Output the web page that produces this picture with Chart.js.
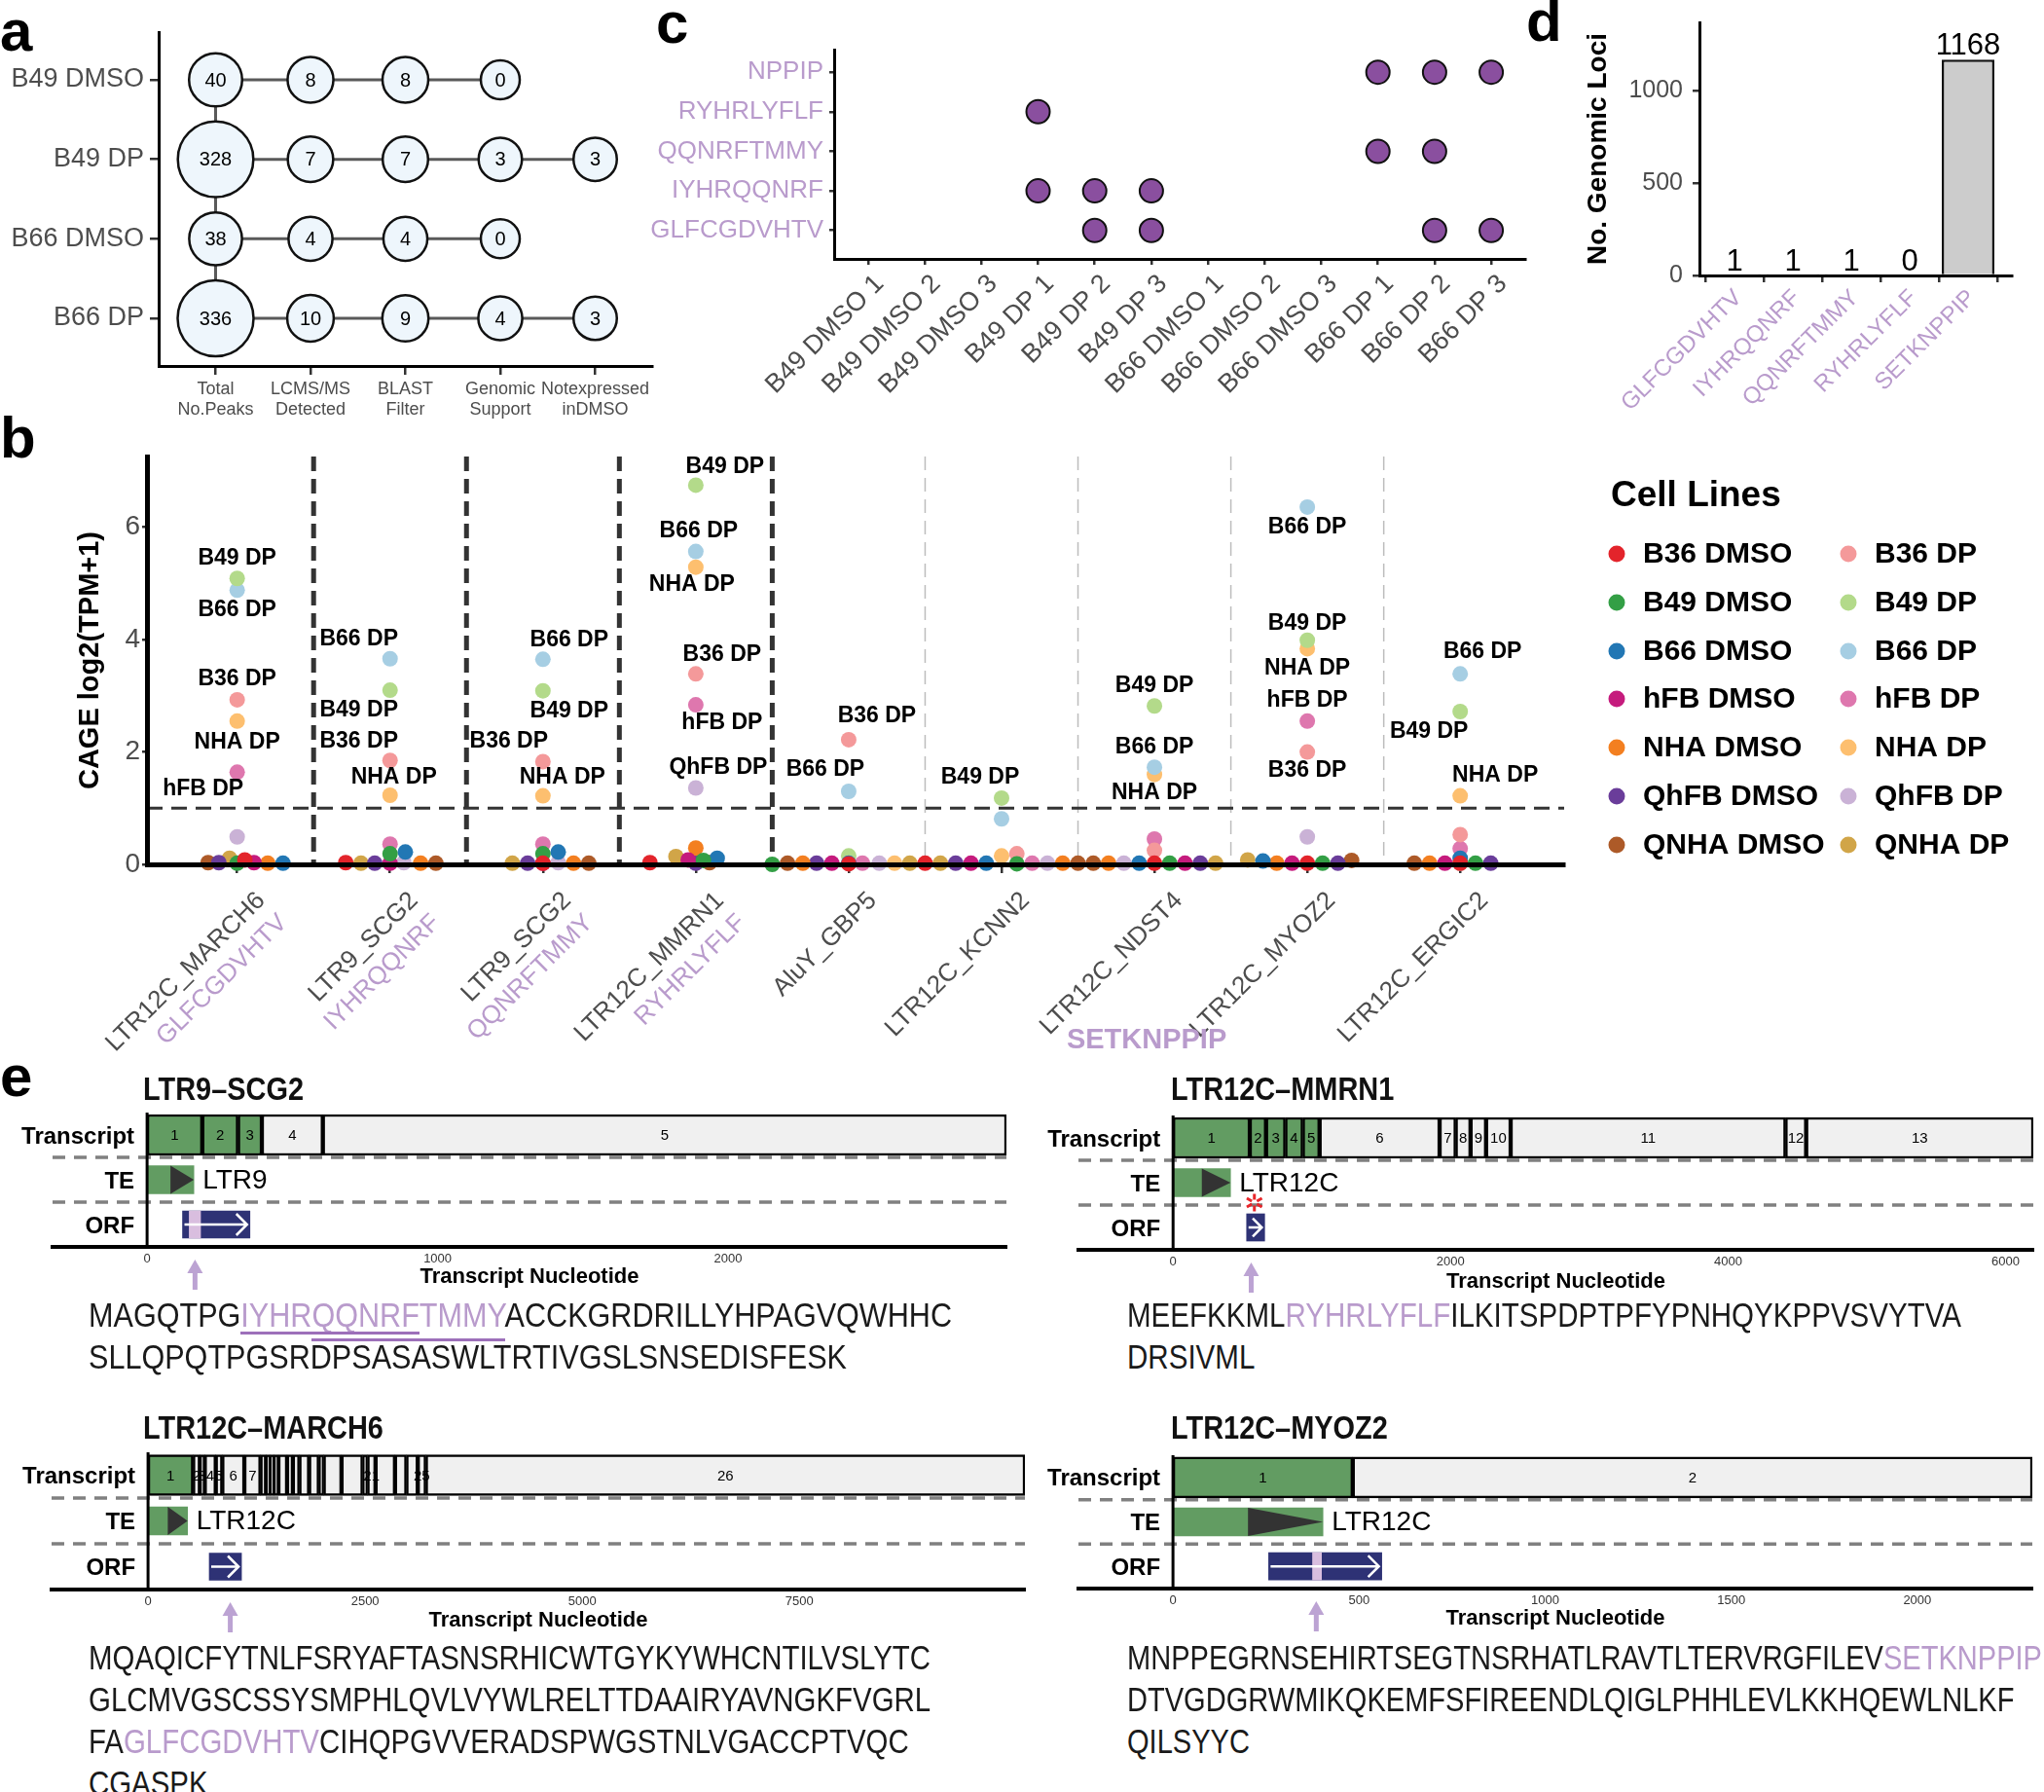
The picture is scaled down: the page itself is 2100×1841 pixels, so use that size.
<!DOCTYPE html>
<html><head><meta charset="utf-8"><title>Figure</title>
<script src="https://cdn.jsdelivr.net/npm/chart.js@4.4.1/dist/chart.umd.min.js"></script>
<style>
html,body{margin:0;padding:0;background:#fff}
#root{position:relative;width:2100px;height:1841px;overflow:hidden;background:#fff;font-family:'Liberation Sans',Arial,sans-serif}
#root canvas{position:absolute}
.lt{position:absolute;font-weight:bold;font-size:60px;line-height:60px;color:#000}
.tx{position:absolute;white-space:nowrap;transform-origin:0 50%;color:#1a1a1a;line-height:1}
</style></head>
<body><div id="root"></div>
<script>
// ================= DATA =================
// ---- panel a ----
const aRows = ['B49 DMSO', 'B49 DP', 'B66 DMSO', 'B66 DP'];
const aSteps = [['Total', 'No.Peaks'], ['LCMS/MS', 'Detected'], ['BLAST', 'Filter'], ['Genomic', 'Support'], ['Notexpressed', 'inDMSO']];
const aB49DMSO = [40, 8, 8, 0];
const aB49DP = [328, 7, 7, 3, 3];
const aB66DMSO = [38, 4, 4, 0];
const aB66DP = [336, 10, 9, 4, 3];

// ---- panel c ----
const cPeptides = ['NPPIP', 'RYHRLYFLF', 'QQNRFTMMY', 'IYHRQQNRF', 'GLFCGDVHTV'];
const cSamples = ['B49 DMSO 1', 'B49 DMSO 2', 'B49 DMSO 3', 'B49 DP 1', 'B49 DP 2', 'B49 DP 3',
  'B66 DMSO 1', 'B66 DMSO 2', 'B66 DMSO 3', 'B66 DP 1', 'B66 DP 2', 'B66 DP 3'];
const cNPPIP      = [0, 0, 0, 0, 0, 0, 0, 0, 0, 1, 1, 1];
const cRYHRLYFLF  = [0, 0, 0, 1, 0, 0, 0, 0, 0, 0, 0, 0];
const cQQNRFTMMY  = [0, 0, 0, 0, 0, 0, 0, 0, 0, 1, 1, 0];
const cIYHRQQNRF  = [0, 0, 0, 1, 1, 1, 0, 0, 0, 0, 0, 0];
const cGLFCGDVHTV = [0, 0, 0, 0, 1, 1, 0, 0, 0, 0, 1, 1];

// ---- panel d ----
const dPeptides = ['GLFCGDVHTV', 'IYHRQQNRF', 'QQNRFTMMY', 'RYHRLYFLF', 'SETKNPPIP'];
const dLoci = [1, 1, 1, 0, 1168];
const dTicks = [0, 500, 1000];

// ---- panel b ----
const bLoci = ['LTR12C_MARCH6', 'LTR9_SCG2', 'LTR9_SCG2', 'LTR12C_MMRN1', 'AluY_GBP5', 'LTR12C_KCNN2', 'LTR12C_NDST4', 'LTR12C_MYOZ2', 'LTR12C_ERGIC2'];
const bPeptides = ['GLFCGDVHTV', 'IYHRQQNRF', 'QQNRFTMMY', 'RYHRLYFLF', '', '', '', '', ''];
const bSharedPeptide = 'SETKNPPIP';
const bTicks = [0, 2, 4, 6];
const bThreshold = 1;
const cellLines = ['B36 DMSO', 'B49 DMSO', 'B66 DMSO', 'hFB DMSO', 'NHA DMSO', 'QhFB DMSO', 'QNHA DMSO',
  'B36 DP', 'B49 DP', 'B66 DP', 'hFB DP', 'NHA DP', 'QhFB DP', 'QNHA DP'];
// CAGE log2(TPM+1), one value per cell line (order as cellLines)
const cage_LTR12C_MARCH6 = [0.08, 0.02, 0.02, 0.03, 0.02, 0.03, 0.03, 2.93, 5.09, 4.88, 1.64, 2.55, 0.49, 0.11];
const cage_LTR9_SCG2_a   = [0.03, 0.19, 0.22, 0.02, 0.02, 0.02, 0.02, 1.85, 3.10, 3.66, 0.36, 1.23, 0.03, 0.02];
const cage_LTR9_SCG2_b   = [0.02, 0.19, 0.22, 0.02, 0.02, 0.02, 0.02, 1.83, 3.09, 3.65, 0.36, 1.22, 0.03, 0.02];
const cage_LTR12C_MMRN1  = [0.03, 0.07, 0.11, 0.08, 0.29, 0.02, 0.03, 3.39, 6.75, 5.57, 2.84, 5.29, 1.36, 0.14];
const cage_AluY_GBP5     = [0.01, 0.00, 0.02, 0.02, 0.02, 0.02, 0.02, 2.22, 0.15, 1.30, 0.02, 0.02, 0.02, 0.02];
const cage_LTR12C_KCNN2  = [0.02, 0.01, 0.02, 0.02, 0.02, 0.02, 0.02, 0.19, 1.18, 0.81, 0.02, 0.15, 0.02, 0.02];
const cage_LTR12C_NDST4  = [0.02, 0.02, 0.02, 0.02, 0.02, 0.02, 0.02, 0.25, 2.82, 1.73, 0.45, 1.60, 0.02, 0.02];
const cage_LTR12C_MYOZ2  = [0.02, 0.02, 0.06, 0.02, 0.02, 0.02, 0.07, 2.00, 3.99, 6.36, 2.55, 3.84, 0.49, 0.08];
const cage_LTR12C_ERGIC2 = [0.02, 0.02, 0.11, 0.02, 0.02, 0.02, 0.02, 0.53, 2.72, 3.39, 0.28, 1.22, 0.02, 0.02];
// horizontal jitter (category units)
const jit_LTR12C_MARCH6 = [0.05, 0, 0.3, 0.11, 0.2, -0.12, -0.19, 0, 0, 0, 0, 0, 0, -0.05];
const jit_LTR9_SCG2_a   = [-0.29, 0, 0.1, 0, 0.2, -0.1, 0.3, 0, 0, 0, 0, 0, 0.09, -0.19];
const jit_LTR9_SCG2_b   = [0, 0, 0.1, 0, 0.2, -0.1, 0.3, 0, 0, 0, 0, 0, 0.1, -0.2];
const jit_LTR12C_MMRN1  = [-0.3, 0.05, 0.14, -0.05, 0, 0, 0.09, 0, 0, 0, 0, 0, 0, -0.13];
const jit_AluY_GBP5     = [0, -0.5, 0, -0.11, -0.3, -0.21, -0.4, 0, 0, 0, 0.09, 0.3, 0.2, 0.4];
const jit_LTR12C_KCNN2  = [-0.5, 0.1, -0.1, -0.2, 0.4, -0.3, 0.5, 0.1, 0, 0, 0.2, 0, 0.3, -0.4];
const jit_LTR12C_NDST4  = [0, 0.1, -0.1, 0.2, -0.3, 0.3, -0.4, 0, 0, 0, 0, 0, -0.2, 0.4];
const jit_LTR12C_MYOZ2  = [0, 0.1, -0.29, -0.1, -0.2, 0.2, 0.29, 0, 0, 0, 0, 0, 0, -0.39];
const jit_LTR12C_ERGIC2 = [0, 0.1, 0, -0.1, -0.2, 0.2, -0.3, 0, 0, 0, 0, 0, 0, 0];

// ---- panel e ----
const eRows = ['Transcript', 'TE', 'ORF'];
const e1Name = 'LTR9–SCG2', e1Len = 2958, e1ExonBounds = [0, 190, 313, 395, 605, 2958], e1TEExons = 3;
const e1TE = [0, 161], e1TEName = 'LTR9', e1ORF = [122, 354], e1Pep = [145, 184], e1PepPos = 165, e1Ticks = [0, 1000, 2000];
const e1Seq = ['MAGQTPGIYHRQQNRFTMMYACCKGRDRILLYHPAGVQWHHC', 'SLLQPQTPGSRDPSASASWLTRTIVGSLSNSEDISFESK'];
const e1Highlight = 'IYHRQQNRFTMMY', e1Underline = ['IYHRQQNRF', 'QQNRFTMMY'];

const e2Name = 'LTR12C–MMRN1', e2Len = 6200, e2ExonBounds = [0, 553, 670, 809, 935, 1056, 1921, 2037, 2144, 2256, 2433, 4414, 4563, 6200], e2TEExons = 5;
const e2TE = [0, 414], e2TEName = 'LTR12C', e2ORF = [530, 660], e2PepPos = 563, e2Mark = 586, e2Ticks = [0, 2000, 4000, 6000];
const e2Seq = ['MEEFKKMLRYHRLYFLFILKITSPDPTPFYPNHQYKPPVSVYTVA', 'DRSIVML'];
const e2Highlight = 'RYHRLYFLF';

const e3Name = 'LTR12C–MARCH6', e3Len = 10098;
const e3ExonBounds = [0, 519, 597, 653, 780, 855, 1109, 1295, 1359, 1407, 1452, 1501, 1601, 1668, 1743, 1855, 1967, 2023, 2228, 2471, 2527, 2620, 2844, 2975, 3106, 3199, 10098];
const e3TEExons = 1, e3ExonLabels = [1, 2, 3, 4, 5, 6, 7, 21, 25, 26];
const e3TE = [0, 455], e3TEName = 'LTR12C', e3ORF = [705, 1076], e3PepPos = 947, e3Ticks = [0, 2500, 5000, 7500];
const e3Seq = ['MQAQICFYTNLFSRYAFTASNSRHICWTGYKYWHCNTILVSLYTC', 'GLCMVGSCSSYSMPHLQVLVYWLRELTTDAAIRYAVNGKFVGRL', 'FAGLFCGDVHTVCIHQPGVVERADSPWGSTNLVGACCPTVQC', 'CGASPK'];
const e3Highlight = 'GLFCGDVHTV';

const e4Name = 'LTR12C–MYOZ2', e4Len = 2309, e4ExonBounds = [0, 483, 2309], e4TEExons = 1;
const e4TE = [0, 403], e4TEName = 'LTR12C', e4ORF = [257, 561], e4Pep = [375, 399], e4PepPos = 385, e4Ticks = [0, 500, 1000, 1500, 2000];
const e4Seq = ['MNPPEGRNSEHIRTSEGTNSRHATLRAVTLTERVRGFILEVSETKNPPIP', 'DTVGDGRWMIKQKEMFSFIREENDLQIGLPHHLEVLKKHQEWLNLKF', 'QILSYYC'];
const e4Highlight = 'SETKNPPIP';

// ================= STYLE =================
const FONT = "'Liberation Sans', Arial, sans-serif";
const PURPLE = '#B99BCC', DOT = '#8A4F9F', GREEN = '#629C62', EXGRAY = '#F0F0F0', NAVY = '#2E3275', PEPBAND = '#D9BEDF';
const cellColors = ['#E3242B', '#339F45', '#2277B4', '#C51B7D', '#F37F20', '#6A3D9A', '#AD5A28',
  '#F4999A', '#B3DA8A', '#A6CEE3', '#DE77AE', '#FDBF6F', '#CAB2D6', '#D1A548'];

Chart.defaults.font.family = FONT;
Chart.defaults.color = '#4D4D4D';

const root = document.getElementById('root');
function canvasAt(b) {
  const c = document.createElement('canvas');
  c.width = b.w; c.height = b.h;
  c.style.left = b.x + 'px'; c.style.top = b.y + 'px';
  c.style.width = b.w + 'px'; c.style.height = b.h + 'px';
  root.appendChild(c);
  return c;
}
function padFor(b, a, yW, xH) {
  return {left: a.l - b.x - yW, top: a.t - b.y, right: b.x + b.w - a.r, bottom: b.y + b.h - a.b - xH};
}
const fixW = w => s => { s.width = w; s.paddingTop = 0; s.paddingBottom = 0; s.paddingLeft = 0; s.paddingRight = 0; };
const fixH = h => s => { s.height = h; s.paddingTop = 0; s.paddingBottom = 0; s.paddingLeft = 0; s.paddingRight = 0; };
const setTicks = vals => s => { s.ticks = vals.map(v => ({value: v})); };
const baseOpts = () => ({
  responsive: false, animation: false, devicePixelRatio: 1, events: [],
  plugins: {legend: {display: false}, tooltip: {enabled: false}}
});

// ================= PANEL LETTERS =================
[['a', 0, 2], ['b', 0, 420], ['c', 674, -6], ['d', 1568, -8], ['e', 0, 1076]].forEach(([t, x, y]) => {
  const d = document.createElement('div'); d.className = 'lt'; d.textContent = t;
  d.style.left = x + 'px'; d.style.top = y + 'px'; root.appendChild(d);
});

// ================= PANEL A =================
(function () {
  const box = {x: 0, y: 20, w: 690, h: 420};
  const area = {l: 163, t: 33, r: 670, b: 376};
  const rows = [aB49DMSO, aB49DP, aB66DMSO, aB66DP];
  const rad = v => 20 + 19 * Math.pow(v / 336, 0.45);
  const bubbles = [];
  rows.forEach((r, i) => r.forEach((v, j) => bubbles.push({x: j, y: i, v})));
  const datasets = [{data: bubbles, order: 0, pointRadius: c => rad(c.raw.v), backgroundColor: '#EEF6FC',
    borderColor: '#111', borderWidth: 2.5, clip: false}];
  datasets.push({data: rows.map((r, i) => ({x: 0, y: i})), order: 1, showLine: true, borderColor: '#5a5a5a', borderWidth: 3, pointRadius: 0});
  rows.forEach((r, i) => datasets.push({data: r.map((v, j) => ({x: j, y: i})), order: 1, showLine: true,
    borderColor: '#5a5a5a', borderWidth: 3, pointRadius: 0}));
  const xH = box.y + box.h - area.b, yW = area.l - box.x;
  new Chart(canvasAt(box), {
    type: 'scatter',
    data: {datasets},
    options: Object.assign(baseOpts(), {
      layout: {padding: padFor(box, area, yW, xH), autoPadding: false},
      scales: {
        x: {type: 'linear', min: -0.6, max: 4.6, afterBuildTicks: setTicks([0, 1, 2, 3, 4]), afterFit: fixH(xH),
          grid: {display: true, drawOnChartArea: false, tickLength: 9, lineWidth: 2.5, color: '#333'},
          border: {display: true, color: '#000', width: 3},
          ticks: {callback: v => aSteps[v], font: {size: 18, lineHeight: 1.2}, color: '#4D4D4D', padding: 4, maxRotation: 0, minRotation: 0, autoSkip: false}},
        y: {type: 'linear', reverse: true, min: -0.6, max: 3.6, afterBuildTicks: setTicks([0, 1, 2, 3]), afterFit: fixW(yW),
          grid: {display: true, drawOnChartArea: false, tickLength: 9, lineWidth: 2.5, color: '#333'},
          border: {display: true, color: '#000', width: 3},
          ticks: {callback: v => aRows[v], font: {size: 27}, color: '#4D4D4D', padding: 6, autoSkip: false}}
      }
    }),
    plugins: [{id: 'aNums', afterDatasetsDraw(chart) {
      const ctx = chart.ctx, meta = chart.getDatasetMeta(0);
      ctx.save(); ctx.font = `20px ${FONT}`; ctx.fillStyle = '#000'; ctx.textAlign = 'center'; ctx.textBaseline = 'middle';
      meta.data.forEach((el, k) => ctx.fillText(String(bubbles[k].v), el.x, el.y + 1));
      ctx.restore();
    }}]
  });
})();

// ================= PANEL C =================
(function () {
  const box = {x: 640, y: 30, w: 940, h: 400};
  const area = {l: 857, t: 51, r: 1567, b: 266};
  const rows = [cNPPIP, cRYHRLYFLF, cQQNRFTMMY, cIYHRQQNRF, cGLFCGDVHTV];
  const pts = [];
  rows.forEach((r, i) => r.forEach((f, j) => { if (f) pts.push({x: j, y: i}); }));
  const xH = box.y + box.h - area.b, yW = area.l - box.x;
  new Chart(canvasAt(box), {
    type: 'scatter',
    data: {datasets: [{data: pts, pointRadius: 12, backgroundColor: DOT, borderColor: '#111', borderWidth: 2, clip: false}]},
    options: Object.assign(baseOpts(), {
      layout: {padding: padFor(box, area, yW, xH), autoPadding: false},
      scales: {
        x: {type: 'linear', min: -0.6, max: 11.6, afterBuildTicks: setTicks(cSamples.map((s, i) => i)), afterFit: fixH(xH),
          grid: {display: true, drawOnChartArea: false, tickLength: 6, lineWidth: 2.5, color: '#333'},
          border: {display: true, color: '#000', width: 3},
          ticks: {callback: v => cSamples[v], font: {size: 27}, color: '#4D4D4D', padding: 4, labelOffset: 12, maxRotation: 45, minRotation: 45, autoSkip: false}},
        y: {type: 'linear', reverse: true, min: -0.57, max: 4.72, afterBuildTicks: setTicks([0, 1, 2, 3, 4]), afterFit: fixW(yW),
          grid: {display: true, drawOnChartArea: false, tickLength: 5, lineWidth: 2.5, color: '#333'},
          border: {display: true, color: '#000', width: 3},
          ticks: {callback: v => cPeptides[v], font: {size: 26}, color: PURPLE, padding: 6, autoSkip: false}}
      }
    })
  });
})();

// ================= PANEL D =================
(function () {
  const box = {x: 1600, y: 0, w: 500, h: 440};
  const area = {l: 1746, t: 23, r: 2067, b: 283};
  const xH = box.y + box.h - area.b, yW = area.l - box.x;
  new Chart(canvasAt(box), {
    type: 'bar',
    data: {datasets: [{data: dLoci.map((v, i) => ({x: i, y: v})), backgroundColor: '#CCCCCC', borderColor: '#111',
      borderWidth: 2.5, barPercentage: 0.9, categoryPercentage: 1}]},
    options: Object.assign(baseOpts(), {
      layout: {padding: padFor(box, area, yW, xH), autoPadding: false},
      scales: {
        x: {type: 'linear', offset: false, min: -0.6, max: 4.75, afterBuildTicks: setTicks(dPeptides.map((p, i) => i)), afterFit: fixH(xH),
          grid: {display: true, drawOnChartArea: false, tickLength: 7, lineWidth: 2.5, color: '#333'},
          border: {display: true, color: '#000', width: 3, z: 1},
          ticks: {callback: v => dPeptides[v], font: {size: 24}, color: PURPLE, padding: 2, labelOffset: 4, maxRotation: 45, minRotation: 45, autoSkip: false}},
        y: {type: 'linear', min: 0, max: 1370, afterBuildTicks: setTicks(dTicks), afterFit: fixW(yW),
          grid: {display: true, drawOnChartArea: false, tickLength: 7, lineWidth: 2.5, color: '#333'},
          border: {display: true, color: '#000', width: 3},
          ticks: {callback: v => String(v), font: {size: 25}, color: '#4D4D4D', padding: 10},
          title: {display: true, text: 'No. Genomic Loci', font: {size: 28, weight: 'bold'}, color: '#000', padding: {top: 25, bottom: 0}}}
      }
    }),
    plugins: [{id: 'dVals', afterDatasetsDraw(chart) {
      const ctx = chart.ctx, meta = chart.getDatasetMeta(0);
      ctx.save(); ctx.font = `31px ${FONT}`; ctx.fillStyle = '#000'; ctx.textAlign = 'center'; ctx.textBaseline = 'alphabetic';
      meta.data.forEach((el, i) => ctx.fillText(String(dLoci[i]), el.x, el.y - 5));
      ctx.restore();
    }}]
  });
})();

// ================= PANEL B =================
(function () {
  const box = {x: 0, y: 430, w: 2100, h: 690};
  const area = {l: 151, t: 469, r: 1607, b: 888};
  const cats = [cage_LTR12C_MARCH6, cage_LTR9_SCG2_a, cage_LTR9_SCG2_b, cage_LTR12C_MMRN1, cage_AluY_GBP5,
    cage_LTR12C_KCNN2, cage_LTR12C_NDST4, cage_LTR12C_MYOZ2, cage_LTR12C_ERGIC2];
  const jits = [jit_LTR12C_MARCH6, jit_LTR9_SCG2_a, jit_LTR9_SCG2_b, jit_LTR12C_MMRN1, jit_AluY_GBP5,
    jit_LTR12C_KCNN2, jit_LTR12C_NDST4, jit_LTR12C_MYOZ2, jit_LTR12C_ERGIC2];
  const datasets = cellLines.map((name, k) => ({
    label: name,
    data: cats.map((vals, i) => ({x: i + jits[i][k], y: vals[k]})),
    pointRadius: 8, backgroundColor: cellColors[k], borderWidth: 0, clip: false
  }));
  // label layout: [locus index, cell line index, dx, dy]
  const labelLayout = [
    [0, 8, 0, -21], [0, 9, 0, 20], [0, 7, 0, -21], [0, 11, 0, 22], [0, 10, -35, 17],
    [1, 9, -32, -20], [1, 8, -32, 21], [1, 7, -32, -20], [1, 11, 4, -18],
    [2, 9, 27, -20], [2, 8, 27, 21], [2, 7, -35, -21], [2, 11, 20, -19],
    [3, 8, 30, -19], [3, 9, 3, -21], [3, 11, -4, 18], [3, 7, 27, -20], [3, 10, 27, 19], [3, 12, 23, -21],
    [4, 7, 29, -24], [4, 9, -24, -22],
    [5, 8, -22, -21],
    [6, 8, 0, -21], [6, 9, 0, -20], [6, 11, 0, 19],
    [7, 9, 0, 21], [7, 8, 0, -17], [7, 11, 0, 20], [7, 10, 0, -21], [7, 7, 0, 19],
    [8, 9, 23, -23], [8, 8, -32, 21], [8, 11, 36, -21]
  ];
  const xH = box.y + box.h - area.b, yW = area.l - box.x;
  new Chart(canvasAt(box), {
    type: 'scatter',
    data: {datasets},
    options: Object.assign(baseOpts(), {
      layout: {padding: padFor(box, area, yW, xH), autoPadding: false},
      scales: {
        x: {type: 'linear', min: -0.59, max: 8.68, afterBuildTicks: setTicks(bLoci.map((l, i) => i)), afterFit: fixH(xH),
          grid: {display: true, drawOnChartArea: false, tickLength: 9, lineWidth: 2.5, color: '#333'},
          border: {display: true, color: '#000', width: 5, z: 1},
          ticks: {callback: () => '', autoSkip: false}},
        y: {type: 'linear', min: 0, max: 7.26, afterBuildTicks: setTicks(bTicks), afterFit: fixW(yW),
          grid: {display: true, drawOnChartArea: false, tickLength: 5, lineWidth: 2.5, color: '#333'},
          border: {display: true, color: '#000', width: 5, z: 1},
          ticks: {callback: v => String(v), font: {size: 28}, color: '#4D4D4D', padding: 2},
          title: {display: true, text: 'CAGE log2(TPM+1)', font: {size: 29, weight: 'bold'}, color: '#000', padding: {top: 76, bottom: 0}}}
      }
    }),
    plugins: [{
      id: 'bGuides',
      beforeDatasetsDraw(chart) {
        const {ctx, chartArea: ca, scales: {x, y}} = chart;
        ctx.save();
        for (let i = 0; i < bLoci.length - 1; i++) {
          const px = x.getPixelForValue(i + 0.5);
          ctx.beginPath();
          if (bPeptides[i]) { ctx.strokeStyle = '#333'; ctx.lineWidth = 5; ctx.setLineDash([15, 8]); }
          else { ctx.strokeStyle = '#BDBDBD'; ctx.lineWidth = 1.5; ctx.setLineDash([14, 8]); }
          ctx.moveTo(px, ca.top); ctx.lineTo(px, ca.bottom); ctx.stroke();
        }
        const py = y.getPixelForValue(bThreshold);
        ctx.strokeStyle = '#333'; ctx.lineWidth = 3; ctx.setLineDash([16, 9]);
        ctx.beginPath(); ctx.moveTo(ca.left, py); ctx.lineTo(ca.right, py); ctx.stroke();
        ctx.restore();
      },
      afterDraw(chart) {
        const {ctx, chartArea: ca, scales: {x}} = chart;
        ctx.save();
        // point labels
        ctx.font = `bold 23px ${FONT}`; ctx.fillStyle = '#000'; ctx.textAlign = 'center'; ctx.textBaseline = 'middle';
        labelLayout.forEach(([i, k, dx, dy]) => {
          const el = chart.getDatasetMeta(k).data[i];
          ctx.fillText(cellLines[k], el.x + dx, el.y + dy);
        });
        // x labels (two lines, rotated)
        ctx.font = `26px ${FONT}`; ctx.textAlign = 'right'; ctx.textBaseline = 'top';
        bLoci.forEach((name, i) => {
          const px = x.getPixelForValue(i);
          ctx.save(); ctx.translate(px, ca.bottom); ctx.rotate(-Math.PI / 4);
          ctx.fillStyle = '#4D4D4D'; ctx.fillText(name, -6, 28);
          if (bPeptides[i]) { ctx.fillStyle = PURPLE; ctx.fillText(bPeptides[i], -6, 28 + 32); }
          ctx.restore();
        });
        const shared = bPeptides.map((p, i) => p ? null : i).filter(v => v !== null);
        const cx = (x.getPixelForValue(shared[0]) + x.getPixelForValue(shared[shared.length - 1])) / 2 - 8;
        ctx.font = `bold 29px ${FONT}`; ctx.fillStyle = PURPLE; ctx.textAlign = 'center'; ctx.textBaseline = 'middle';
        ctx.fillText(bSharedPeptide, cx, ca.bottom + 181);
        // legend
        ctx.translate(-box.x, -box.y);
        ctx.font = `bold 37px ${FONT}`; ctx.fillStyle = '#000'; ctx.textAlign = 'left';
        ctx.fillText('Cell Lines', 1655, 510);
        const rowsY = [569, 619, 669, 718, 768, 818, 868];
        ctx.font = `bold 30px ${FONT}`;
        chart.data.datasets.forEach((ds, k) => {
          const col = k < 7 ? 0 : 1, r = k % 7;
          const dx = col ? 1899 : 1661;
          ctx.fillStyle = ds.backgroundColor;
          ctx.beginPath(); ctx.arc(dx, rowsY[r], 8.5, 0, Math.PI * 2); ctx.fill();
          ctx.fillStyle = '#000';
          ctx.fillText(ds.label, dx + 27, rowsY[r] + 1);
        });
        ctx.restore();
      }
    }]
  });
})();

// ================= PANEL E =================
function genePlugin(G) {
  return {
    id: 'gene',
    afterDatasetsDraw(chart) {
      const {ctx, chartArea: ca, scales: {x, y}} = chart;
      const x0 = x.getPixelForValue(0);
      ctx.save();
      // exon numbers
      const exMeta = chart.getDatasetMeta(0);
      ctx.font = `15px ${FONT}`; ctx.fillStyle = '#000'; ctx.textAlign = 'center'; ctx.textBaseline = 'middle';
      exMeta.data.forEach((el, i) => {
        if (G.labels && !G.labels.includes(i + 1)) return;
        ctx.fillText(String(i + 1), (el.x + el.base) / 2, el.y + 1);
      });
      // TE triangle + name
      const te = chart.getDatasetMeta(1).data[0];
      const mid = (te.x + te.base) / 2, h = te.height;
      ctx.fillStyle = '#333';
      ctx.beginPath(); ctx.moveTo(mid, te.y - h / 2); ctx.lineTo(te.x, te.y); ctx.lineTo(mid, te.y + h / 2); ctx.closePath(); ctx.fill();
      ctx.font = `28px ${FONT}`; ctx.fillStyle = '#000'; ctx.textAlign = 'left';
      ctx.fillText(G.teName, te.x + 9, te.y + 1);
      // ORF arrow
      const orf = chart.getDatasetMeta(2).data[0];
      const ah = Math.min(11, (orf.x - orf.base) * 0.5);
      ctx.strokeStyle = '#fff'; ctx.lineWidth = 2.5;
      ctx.beginPath(); ctx.moveTo(orf.base + 2, orf.y); ctx.lineTo(orf.x - 3, orf.y);
      ctx.moveTo(orf.x - 3 - ah, orf.y - ah); ctx.lineTo(orf.x - 3, orf.y); ctx.lineTo(orf.x - 3 - ah, orf.y + ah); ctx.stroke();
      // row separators
      ctx.strokeStyle = '#808080'; ctx.lineWidth = 3.5; ctx.setLineDash([13, 9]);
      for (let i = 0; i < eRows.length - 1; i++) {
        const py = (y.getPixelForValue(i) + y.getPixelForValue(i + 1)) / 2;
        ctx.beginPath(); ctx.moveTo(ca.left, py); ctx.lineTo(ca.right, py); ctx.stroke();
      }
      ctx.setLineDash([]);
      // vertical line at 0
      ctx.strokeStyle = '#000'; ctx.lineWidth = 3;
      ctx.beginPath(); ctx.moveTo(x0, ca.top); ctx.lineTo(x0, ca.bottom); ctx.stroke();
      // row labels
      ctx.font = `bold 24px ${FONT}`; ctx.fillStyle = '#000'; ctx.textAlign = 'right';
      eRows.forEach((r, i) => ctx.fillText(r, x0 - 13, y.getPixelForValue(i) + 2));
      // red mark
      if (G.mark !== undefined) {
        const mx = x.getPixelForValue(G.mark), my = te.y + h / 2 + 6;
        ctx.strokeStyle = '#E8262A'; ctx.lineWidth = 3;
        for (let a = 0; a < 3; a++) {
          const ang = Math.PI / 2 + a * Math.PI / 3;
          ctx.beginPath();
          ctx.moveTo(mx + Math.cos(ang) * 3, my + Math.sin(ang) * 3); ctx.lineTo(mx + Math.cos(ang) * 9, my + Math.sin(ang) * 9);
          ctx.moveTo(mx - Math.cos(ang) * 3, my - Math.sin(ang) * 3); ctx.lineTo(mx - Math.cos(ang) * 9, my - Math.sin(ang) * 9);
          ctx.stroke();
        }
      }
      // peptide position arrow
      const ax = x.getPixelForValue(G.pepPos), tip = ca.bottom + 13, bot = ca.bottom + 44;
      ctx.fillStyle = '#BCA3D3';
      ctx.fillRect(ax - 2.5, tip + 12, 5, bot - tip - 12);
      ctx.beginPath(); ctx.moveTo(ax, tip); ctx.lineTo(ax - 8, tip + 14); ctx.lineTo(ax + 8, tip + 14); ctx.closePath(); ctx.fill();
      ctx.restore();
    }
  };
}
function geneChart(box, area, G) {
  const bounds = G.bounds;
  const exons = bounds.slice(0, -1).map((s, i) => ({x: [s, bounds[i + 1]], y: eRows[0]}));
  const datasets = [
    {data: exons, order: 2, backgroundColor: exons.map((e, i) => i < G.teExons ? GREEN : EXGRAY), borderColor: '#000',
      borderWidth: 2.5, borderSkipped: false, barThickness: 42, grouped: false},
    {data: [{x: G.te, y: eRows[1]}], order: 2, backgroundColor: GREEN, borderWidth: 0, barThickness: 29, grouped: false},
    {data: [{x: G.orf, y: eRows[2]}], order: 1, backgroundColor: NAVY, borderWidth: 0, barThickness: 28, grouped: false}
  ];
  if (G.pep) datasets.push({data: [{x: G.pep, y: eRows[2]}], order: 0, backgroundColor: PEPBAND, borderWidth: 0, barThickness: 28, grouped: false});
  const xH = box.y + box.h - area.b;
  new Chart(canvasAt(box), {
    type: 'bar',
    data: {labels: eRows, datasets},
    options: Object.assign(baseOpts(), {
      indexAxis: 'y',
      layout: {padding: padFor(box, area, 0, xH), autoPadding: false},
      scales: {
        y: {type: 'category', display: false, offset: true},
        x: {type: 'linear', min: -0.11 * G.len, max: G.len, afterBuildTicks: setTicks(G.ticks), afterFit: fixH(xH),
          grid: {display: false, drawTicks: false}, border: {display: true, color: '#000', width: 4, z: 1},
          ticks: {callback: v => String(v), font: {size: 13}, color: '#333', padding: 5, maxRotation: 0, autoSkip: false},
          title: {display: true, text: 'Transcript Nucleotide', font: {size: 22, weight: 'bold'}, color: '#000', padding: {top: 0, bottom: G.tpb}}}
      }
    }),
    plugins: [genePlugin(G)]
  });
}
geneChart({x: 0, y: 1130, w: 1060, h: 210}, {l: 54, t: 1143, r: 1034, b: 1281},
  {bounds: e1ExonBounds, len: e1Len, teExons: e1TEExons, te: e1TE, teName: e1TEName, orf: e1ORF, pep: e1Pep, pepPos: e1PepPos, ticks: e1Ticks, tpb: 14.8});
geneChart({x: 1060, y: 1130, w: 1040, h: 210}, {l: 1108, t: 1146, r: 2089, b: 1284},
  {bounds: e2ExonBounds, len: e2Len, teExons: e2TEExons, te: e2TE, teName: e2TEName, orf: e2ORF, pepPos: e2PepPos, mark: e2Mark, ticks: e2Ticks, tpb: 9.8});
geneChart({x: 0, y: 1480, w: 1060, h: 210}, {l: 53, t: 1492, r: 1053, b: 1633},
  {bounds: e3ExonBounds, len: e3Len, teExons: e3TEExons, labels: e3ExonLabels, te: e3TE, teName: e3TEName, orf: e3ORF, pepPos: e3PepPos, ticks: e3Ticks, tpb: 11.8});
geneChart({x: 1060, y: 1480, w: 1040, h: 210}, {l: 1108, t: 1495, r: 2088, b: 1632},
  {bounds: e4ExonBounds, len: e4Len, teExons: e4TEExons, te: e4TE, teName: e4TEName, orf: e4ORF, pep: e4Pep, pepPos: e4PepPos, ticks: e4Ticks, tpb: 13.8});

// ---- titles and sequences (HTML text) ----
function textLine(left, cy, size, weight) {
  const d = document.createElement('div'); d.className = 'tx';
  d.style.left = left + 'px'; d.style.top = (cy - size / 2) + 'px'; d.style.fontSize = size + 'px'; d.style.fontWeight = weight;
  root.appendChild(d); return d;
}
const titleDivs = [[e1Name, 147, 1118], [e2Name, 1203, 1118], [e3Name, 147, 1466], [e4Name, 1203, 1466]].map(([t, x, y]) => {
  const d = textLine(x, y, 34, 'bold'); d.textContent = t; d.style.color = '#111'; return d;
});
const kT = 165 / titleDivs[0].getBoundingClientRect().width;
titleDivs.forEach(d => d.style.transform = `scaleX(${kT})`);

const underlineJobs = [];
function seqBlock(lines, hl, underlines, left, cy0, firstLineWidth) {
  const divs = [];
  lines.forEach((line, li) => {
    const d = textLine(left, cy0 + li * 43, 35, 'normal');
    const idx = line.indexOf(hl);
    if (idx >= 0) {
      d.appendChild(document.createTextNode(line.slice(0, idx)));
      const s = document.createElement('span'); s.style.color = PURPLE; s.textContent = hl; d.appendChild(s);
      d.appendChild(document.createTextNode(line.slice(idx + hl.length)));
      if (underlines) underlines.forEach((u, ui) => underlineJobs.push({node: s.firstChild, start: hl.indexOf(u), len: u.length, y: cy0 + 18 + ui * 7}));
    } else d.textContent = line;
    divs.push(d);
  });
  const k = firstLineWidth / divs[0].getBoundingClientRect().width;
  divs.forEach(d => d.style.transform = `scaleX(${k})`);
}
seqBlock(e1Seq, e1Highlight, e1Underline, 91, 1350, 887);
seqBlock(e2Seq, e2Highlight, null, 1158, 1350, 857);
seqBlock(e3Seq, e3Highlight, null, 91, 1702, 865);
seqBlock(e4Seq, e4Highlight, null, 1158, 1702, 940);
underlineJobs.forEach(j => {
  const r = document.createRange(); r.setStart(j.node, j.start); r.setEnd(j.node, j.start + j.len);
  const b = r.getBoundingClientRect();
  const u = document.createElement('div');
  u.style.cssText = `position:absolute;left:${b.left}px;top:${j.y}px;width:${b.width}px;height:3px;background:#9D70BA`;
  root.appendChild(u);
});
</script>
</body></html>
